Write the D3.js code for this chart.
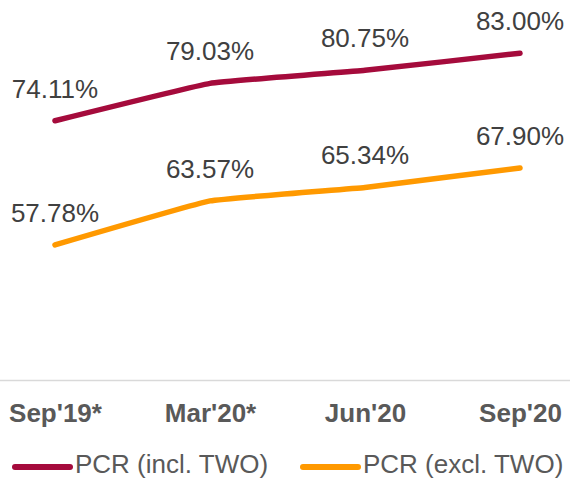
<!DOCTYPE html>
<html lang="en">
<head>
    <meta charset="UTF-8">
    <title>PCR</title>
    <script src="https://cdn.jsdelivr.net/npm/d3@7"></script>
    <style>
        body{ margin:0; background:#fff; }
        text{ font-family: "Liberation Sans", Arial, sans-serif; }
    </style>
</head>
<body>
<div class="container"></div>
<script>
    // data
    const periods = ["Sep'19*", "Mar'20*", "Jun'20", "Sep'20"]
    const pcrIncl = [74.11, 79.03, 80.75, 83.00]
    const pcrExcl = [57.78, 63.57, 65.34, 67.90]
    const seriesNames = ["PCR (incl. TWO)", "PCR (excl. TWO)"]
    const seriesColors = ["#a50b3c", "#ff9900"]

    const width = 570, height = 479
    const svg = d3.select('.container')
        .append("svg")
        .attr("width", width)
        .attr("height", height)

    const x = d3.scalePoint().domain(periods).range([55, 520])
    const y = d3.scaleLinear().domain([40, 90]).range([380, 0])

    // axis baseline
    svg.append("line")
        .attr("x1", 0).attr("x2", width)
        .attr("y1", 380.5).attr("y2", 380.5)
        .attr("stroke", "#d9d9d9")
        .attr("stroke-width", 1.5)

    const xAxis = svg.append("g")
        .attr("transform", `translate(0,380)`)
        .call(d3.axisBottom(x).tickSize(0).tickPadding(0))
    xAxis.select(".domain").remove()
    xAxis.selectAll("text")
        .attr("y", 42)
        .attr("dy", 0)
        .attr("fill", "#595959")
        .style("font-size", "26px")
        .style("font-weight", "bold")
        .style("font-family", '"Liberation Sans", Arial, sans-serif')

    const series = [pcrIncl, pcrExcl]
    const line = d3.line()
        .x((d, i) => x(periods[i]))
        .y(d => y(d))
        .curve(d3.curveCardinal.tension(0.75))

    series.forEach((vals, s) => {
        svg.append("path")
            .datum(vals)
            .attr("d", line)
            .attr("fill", "none")
            .attr("stroke", seriesColors[s])
            .attr("stroke-width", 5.5)
            .attr("stroke-linecap", "round")

        svg.append("g").selectAll("text")
            .data(vals)
            .join("text")
            .attr("x", (d, i) => x(periods[i]))
            .attr("y", d => y(d) - 23)
            .attr("text-anchor", "middle")
            .attr("fill", "#404040")
            .style("font-size", "26px")
            .text(d => d.toFixed(2) + "%")
    })

    // legend
    const legendX = [15, 303]
    const legend = svg.append("g")
    seriesNames.forEach((name, s) => {
        legend.append("line")
            .attr("x1", legendX[s]).attr("x2", legendX[s] + 55)
            .attr("y1", 467).attr("y2", 467)
            .attr("stroke", seriesColors[s])
            .attr("stroke-width", 6)
            .attr("stroke-linecap", "round")
        legend.append("text")
            .attr("x", legendX[s] + 60)
            .attr("y", 473)
            .attr("fill", "#595959")
            .style("font-size", "26px")
            .text(name)
    })
</script>
</body>
</html>
